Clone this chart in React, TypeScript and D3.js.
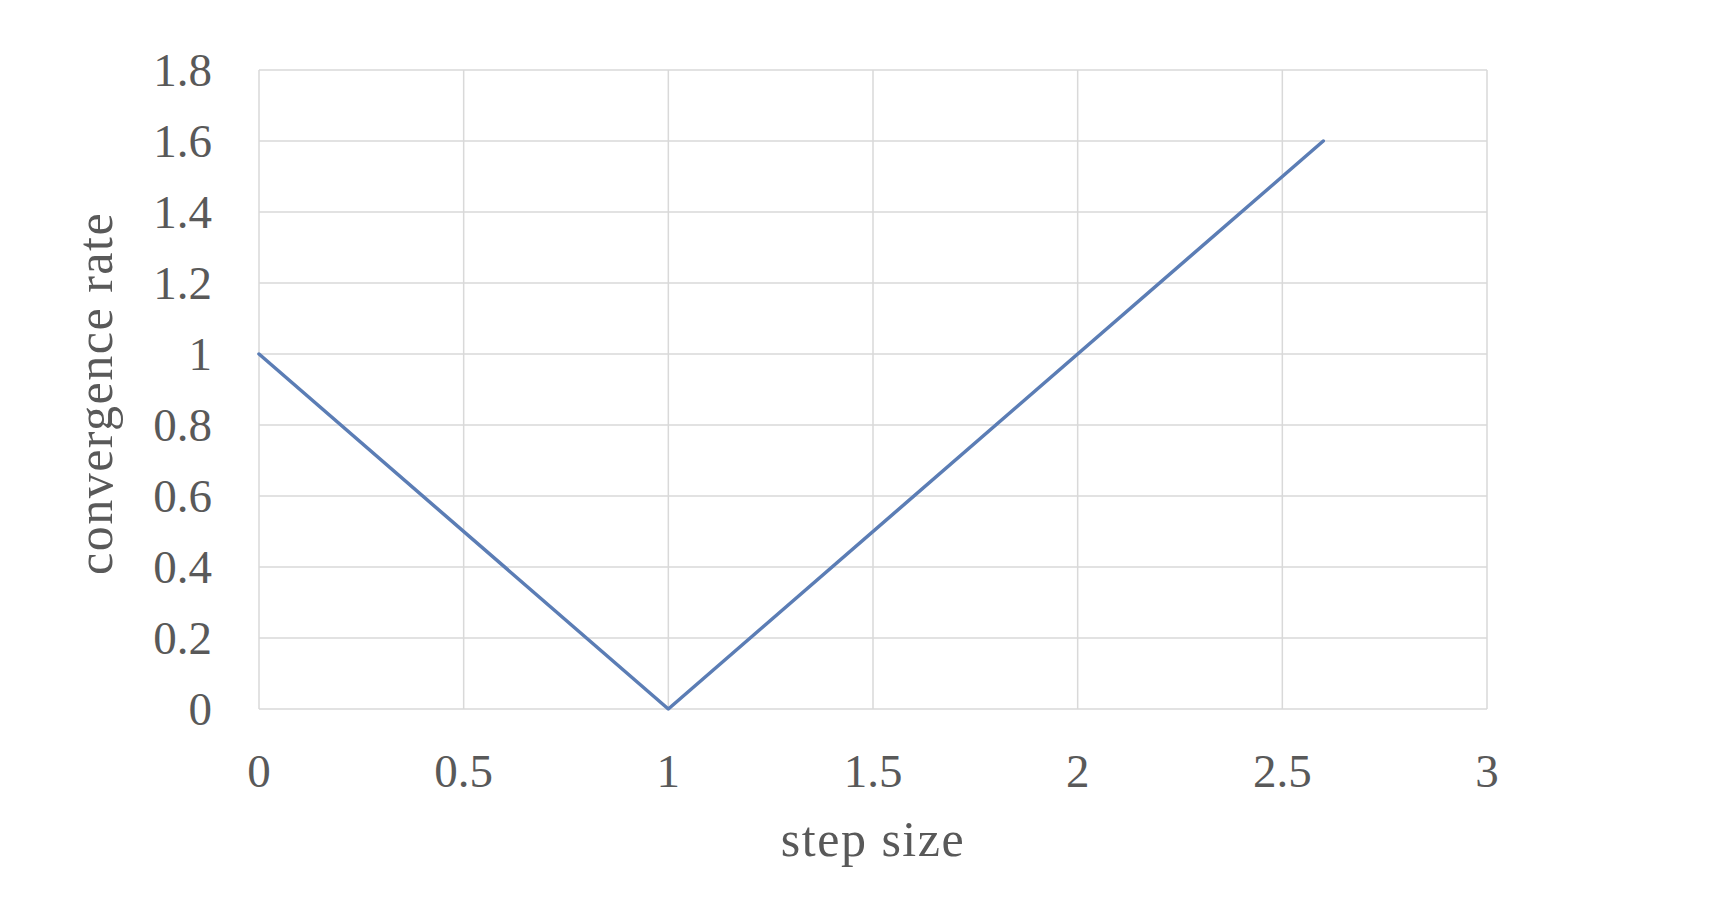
import React from "react";
import * as d3 from "d3";

const stepSize = [0, 1, 2.6];
const convergenceRate = [1, 0, 1.6];
const xTicks = [0, 0.5, 1, 1.5, 2, 2.5, 3];
const yTicks = [0, 0.2, 0.4, 0.6, 0.8, 1, 1.2, 1.4, 1.6, 1.8];

export default function App() {
  const W = 1728, H = 898;
  const left = 259, right = 1487, top = 70, bottom = 709;
  const x = d3.scaleLinear().domain([0, 3]).range([left, right]);
  const y = d3.scaleLinear().domain([0, 1.8]).range([bottom, top]);
  const pts = stepSize.map((s, i) => [s, convergenceRate[i]] as [number, number]);
  const line = d3.line<[number, number]>().x(d => x(d[0])).y(d => y(d[1]));
  const font = "'Liberation Serif', 'DejaVu Serif', serif";
  const fs = 47;
  const col = "#595959";
  return (
    <svg width={W} height={H} style={{ position: "absolute", left: 0, top: 0, background: "#fff" }}>
      {xTicks.map(t => (
        <line key={"gx" + t} x1={x(t)} x2={x(t)} y1={top} y2={bottom} stroke="#d9d9d9" strokeWidth={1.5} />
      ))}
      {yTicks.map(t => (
        <line key={"gy" + t} x1={left} x2={right} y1={y(t)} y2={y(t)} stroke="#d9d9d9" strokeWidth={1.5} />
      ))}
      <path d={line(pts) || ""} fill="none" stroke="#5b7db5" strokeWidth={3.5} strokeLinecap="round" strokeLinejoin="round" />
      {yTicks.map(t => (
        <text key={"ly" + t} x={212} y={y(t)} dy="0.35em" textAnchor="end" fontFamily={font} fontSize={fs} fill={col}>
          {String(t)}
        </text>
      ))}
      {xTicks.map(t => (
        <text key={"lx" + t} x={x(t)} y={787} textAnchor="middle" fontFamily={font} fontSize={fs} fill={col}>
          {String(t)}
        </text>
      ))}
      <text x={(left + right) / 2} y={856} textAnchor="middle" fontFamily={font} fontSize={50} letterSpacing={1.5} fill={col}>
        step size
      </text>
      <text transform={`translate(112, ${(top + bottom) / 2 + 4}) rotate(-90)`} textAnchor="middle" fontFamily={font} fontSize={50} letterSpacing={1.5} fill={col}>
        convergence rate
      </text>
    </svg>
  );
}
